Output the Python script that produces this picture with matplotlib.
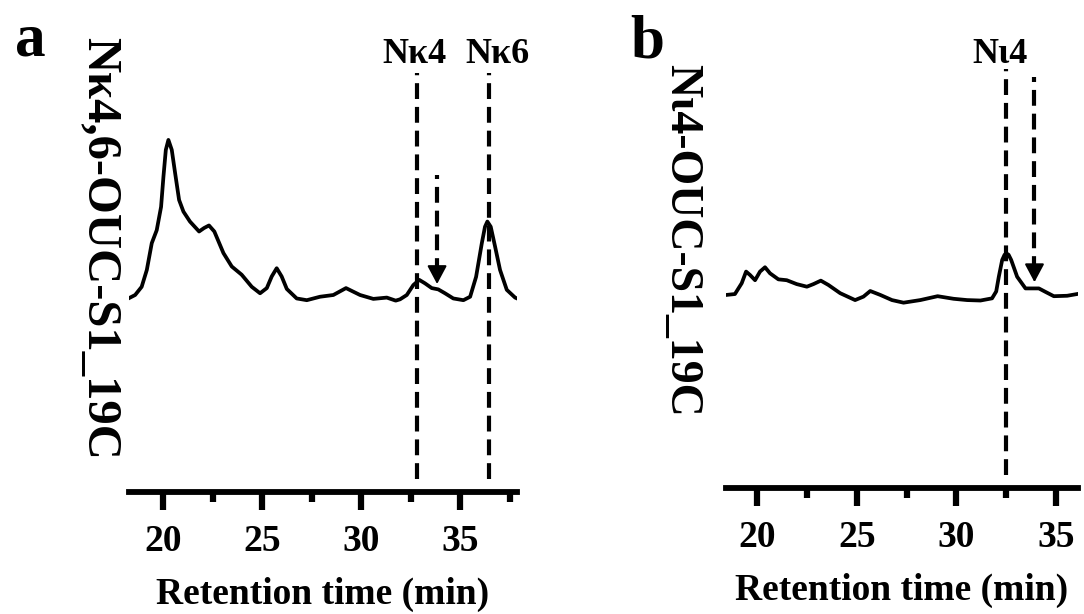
import numpy as np
import matplotlib.pyplot as plt

plt.rcParams['font.family'] = ['Liberation Serif', 'DejaVu Serif']
plt.rcParams['font.weight'] = 'bold'

# panel a: Nk4,6-OUC-S1_19C trace (retention time in min, relative intensity)
time_a = [18.25, 18.59, 18.92, 19.18, 19.43, 19.68, 19.90, 20.02, 20.14, 20.27,
          20.44, 20.61, 20.81, 21.03, 21.36, 21.82, 22.07, 22.32, 22.59, 23.05,
          23.47, 23.97, 24.48, 24.90, 25.24, 25.49, 25.74, 25.99, 26.25, 26.75,
          27.26, 27.93, 28.60, 29.24, 29.95, 30.62, 31.30, 31.75, 31.97, 32.31,
          32.64, 32.94, 33.23, 33.57, 33.90, 34.24, 34.66, 35.17, 35.51, 35.81,
          36.10, 36.26, 36.38, 36.55, 36.77, 37.02, 37.36, 37.78, 37.88]
signal_a = [44.8, 45.6, 47.5, 51.4, 57.6, 60.6, 66.0, 73.0, 79.2, 81.5,
            79.2, 73.8, 67.6, 64.9, 62.6, 60.3, 61.1, 61.7, 60.3, 55.3,
            52.2, 50.3, 47.5, 46.0, 47.2, 49.9, 51.8, 49.9, 47.0, 44.8,
            44.4, 45.2, 45.6, 47.2, 45.6, 44.7, 45.0, 44.3, 44.6, 45.6,
            47.9, 49.1, 48.3, 47.2, 46.9, 46.0, 44.8, 44.4, 45.2, 49.8,
            57.6, 61.4, 62.6, 61.4, 56.8, 51.4, 46.8, 45.0, 44.8]

# panel b: Ni4-OUC-S1_19C trace
time_b = [18.48, 18.89, 19.23, 19.45, 19.65, 19.90, 20.15, 20.40, 20.65, 21.07,
          21.49, 21.99, 22.50, 22.83, 23.20, 23.58, 24.17, 24.92, 25.34, 25.68,
          26.18, 26.77, 27.35, 28.19, 29.06, 29.86, 30.54, 31.21, 31.79, 32.00,
          32.13, 32.30, 32.42, 32.51, 32.62, 32.75, 33.05, 33.47, 33.88, 34.14,
          34.47, 34.89, 35.56, 36.06]
signal_b = [44.7, 44.9, 47.4, 50.1, 49.3, 48.1, 50.1, 51.1, 49.7, 48.3,
            48.1, 47.2, 46.6, 47.2, 48.0, 47.0, 45.1, 43.5, 44.3, 45.6,
            44.7, 43.5, 42.9, 43.5, 44.4, 43.8, 43.5, 43.4, 43.9, 45.5,
            48.9, 52.8, 54.0, 54.3, 54.0, 52.8, 48.9, 46.2, 46.2, 46.2,
            45.4, 44.4, 44.5, 44.9]

# marker positions (min)
peaks_a = [32.83, 36.46]
peak_names_a = ['Nκ4', 'Nκ6']
arrow_a = 33.84
peaks_b = [32.51]
peak_names_b = ['Nι4']
arrow_b = 33.92

fig = plt.figure(figsize=(10.84, 6.14), dpi=100)
ax_a = fig.add_axes([0.119, 0.1987, 0.358, 0.7036])
ax_b = fig.add_axes([0.6697, 0.2052, 0.3247, 0.7036])


def style_axis(ax, xlim):
    ax.set_xlim(*xlim)
    ax.set_ylim(0, 100)
    for s in ['left', 'top', 'right']:
        ax.spines[s].set_visible(False)
    ax.spines['bottom'].set_linewidth(4.2)
    ax.set_yticks([])
    ax.set_xticks([20, 25, 30, 35])
    ax.set_xticks(np.arange(22.5, xlim[1], 5), minor=True)
    ax.tick_params(axis='x', which='major', direction='out', length=13, width=4.5,
                   labelsize=27, pad=10)
    ax.tick_params(axis='x', which='minor', direction='out', length=7, width=4.5)
    for lab in ax.get_xticklabels():
        lab.set_fontweight('bold')
    ax.set_xlabel('Retention time (min)', fontsize=27, fontweight='bold', labelpad=13)


def mark(ax, peaks, arrow_x, arrow_top, arrow_tip):
    for p in peaks:
        ax.vlines(p, 3, 97, colors='k', linewidth=3, linestyles=(0, (3.8, 1.9)))
    ax.vlines(arrow_x, arrow_tip + 3, arrow_top, colors='k', linewidth=3,
              linestyles=(0, (3.8, 1.9)))
    ax.annotate('', xy=(arrow_x, arrow_tip), xytext=(arrow_x, arrow_tip + 3.5),
                arrowprops=dict(arrowstyle='-|>,head_length=0.75,head_width=0.4',
                                color='k', lw=1.5, mutation_scale=15))


style_axis(ax_a, (18.28, 37.88))
ax_a.plot(time_a, signal_a, color='k', linewidth=2.7, solid_joinstyle='round')
mark(ax_a, peaks_a, arrow_a, 73.4, 47.5)

style_axis(ax_b, (18.44, 36.1))
ax_b.plot(time_b, signal_b, color='k', linewidth=2.7, solid_joinstyle='round')
mark(ax_b, peaks_b, arrow_b, 95.1, 47.0)

# peak names above the dashed lines
for x, name in zip([414, 497], peak_names_a):
    fig.text(x / 1084, 1 - 63 / 614, name, ha='center', va='baseline',
             fontsize=26, fontweight='bold')
for x, name in zip([1000], peak_names_b):
    fig.text(x / 1084, 1 - 63 / 614, name, ha='center', va='baseline',
             fontsize=26, fontweight='bold')

# rotated y labels
fig.text(100 / 1084, 1 - 248 / 614, 'Nκ4,6-OUC-S1_19C', rotation=-90,
         ha='center', va='center', fontsize=35, fontweight='bold')
fig.text(681 / 1084, 1 - 240 / 614, 'Nι4-OUC-S1_19C', rotation=-90,
         ha='center', va='center', fontsize=33, fontweight='bold')

# panel letters
fig.text(15 / 1084, 1 - 55 / 614, 'a', ha='left', va='baseline', fontsize=44, fontweight='bold')
fig.text(630 / 1084, 1 - 57 / 614, 'b', ha='left', va='baseline', fontsize=44, fontweight='bold')

fig.savefig('out.png', dpi=100)
